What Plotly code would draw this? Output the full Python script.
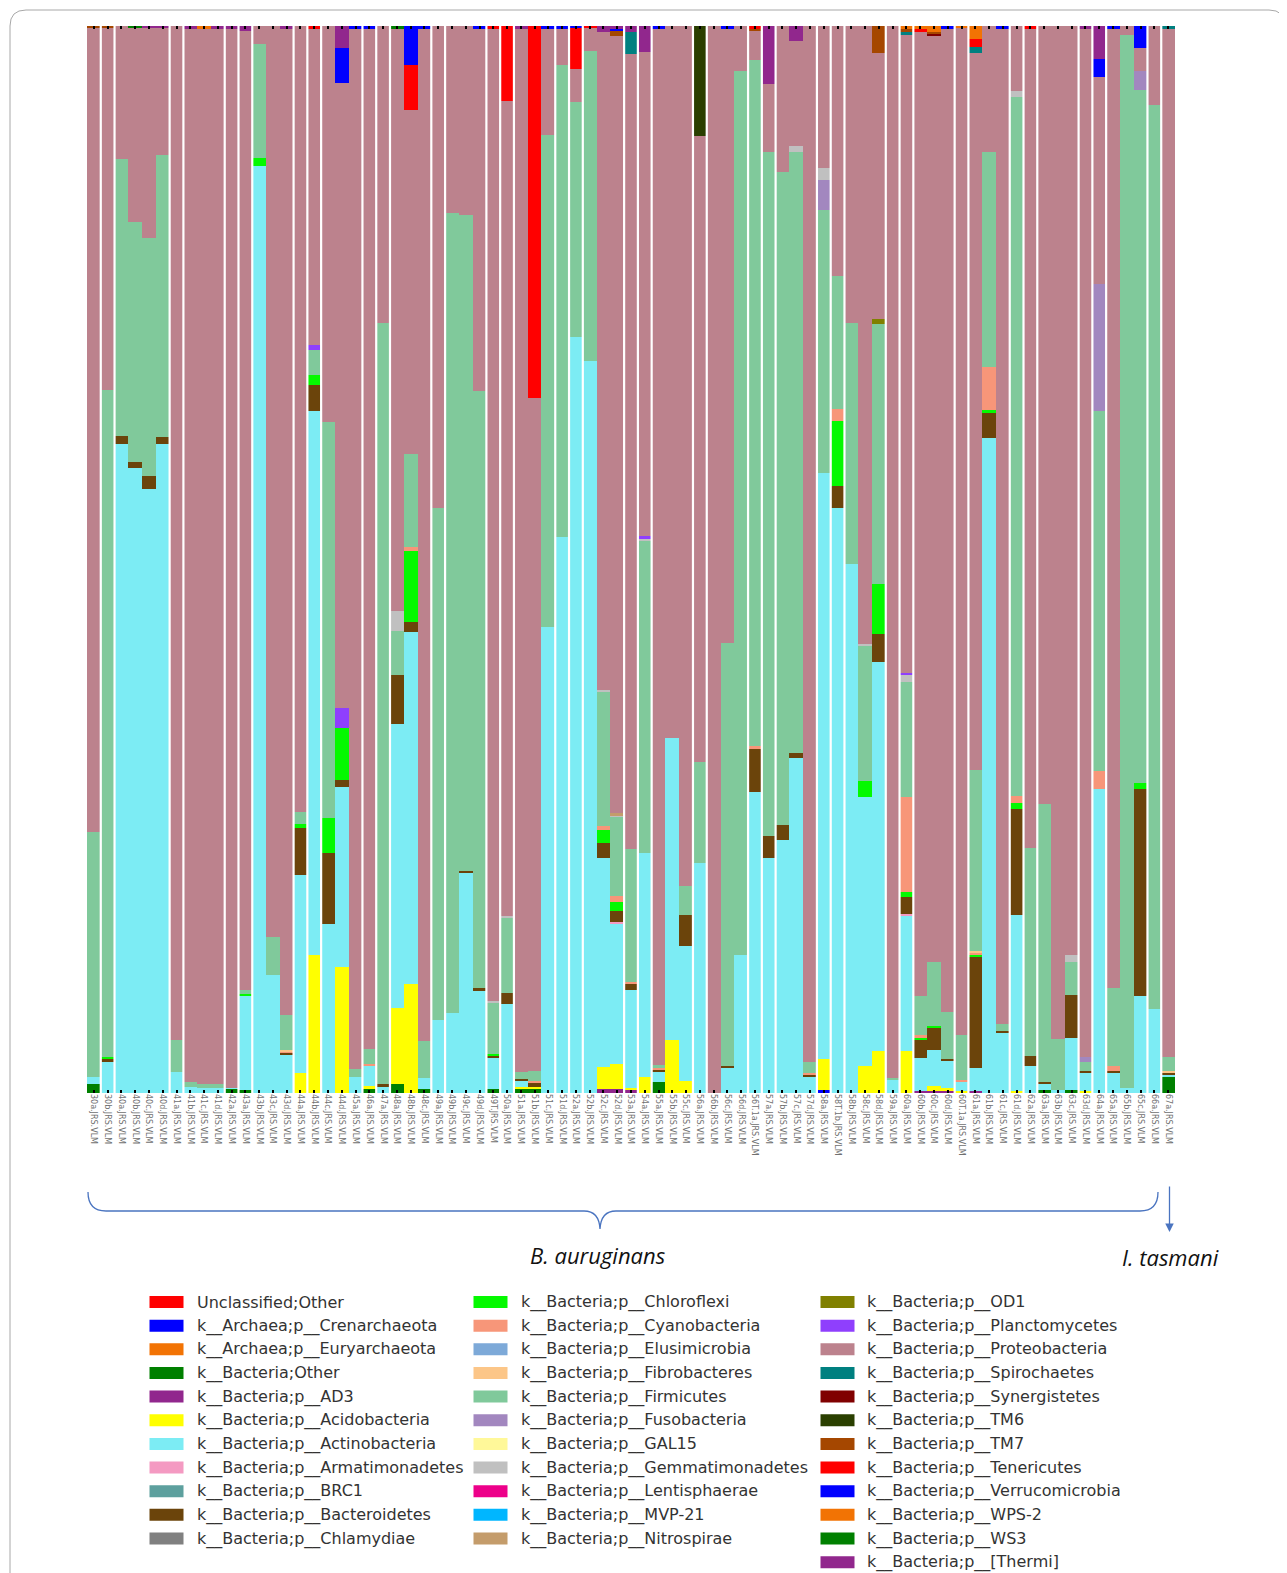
import plotly.graph_objects as go

# ---------------- data ----------------
N_BARS = 79
group_sizes = [1, 1, 4, 1, 3, 1, 1, 3, 1, 1, 3, 1, 1, 3, 1, 3, 1, 1, 3, 1, 1, 3, 1, 1, 3,
               1, 3, 1, 1, 3, 1, 1, 3, 1, 1, 3, 1, 3, 1, 1, 3, 1, 1, 3, 1, 1]

sample_ids = ["30a", "30b", "40a", "40b", "40c", "40d", "41a", "41b", "41c", "41d", "42a",
              "43a", "43b", "43c", "43d", "44a", "44b", "44c", "44d", "45a", "46a", "47a",
              "48a", "48b", "48c", "49a", "49b", "49c", "49d", "49T", "50a", "51a", "51b",
              "51c", "51d", "52a", "52b", "52c", "52d", "53a", "54a", "55a", "55b", "55c",
              "56a", "56b", "56c", "56d", "56T.1a", "57a", "57b", "57c", "57d", "58a",
              "58T.1b", "58b", "58c", "58d", "59a", "60a", "60b", "60c", "60d", "60T.1a",
              "61a", "61b", "61c", "61d", "62a", "63a", "63b", "63c", "63d", "64a", "65a",
              "65b", "65c", "66a", "67a"]

phylum_names = ["Unclassified;Other", "k__Archaea;p__Crenarchaeota", "k__Archaea;p__Euryarchaeota",
                "k__Bacteria;Other", "k__Bacteria;p__AD3", "k__Bacteria;p__Acidobacteria",
                "k__Bacteria;p__Actinobacteria", "k__Bacteria;p__Armatimonadetes", "k__Bacteria;p__BRC1",
                "k__Bacteria;p__Bacteroidetes", "k__Bacteria;p__Chlamydiae", "k__Bacteria;p__Chloroflexi",
                "k__Bacteria;p__Cyanobacteria", "k__Bacteria;p__Elusimicrobia", "k__Bacteria;p__Fibrobacteres",
                "k__Bacteria;p__Firmicutes", "k__Bacteria;p__Fusobacteria", "k__Bacteria;p__GAL15",
                "k__Bacteria;p__Gemmatimonadetes", "k__Bacteria;p__Lentisphaerae", "k__Bacteria;p__MVP-21",
                "k__Bacteria;p__Nitrospirae", "k__Bacteria;p__OD1", "k__Bacteria;p__Planctomycetes",
                "k__Bacteria;p__Proteobacteria", "k__Bacteria;p__Spirochaetes", "k__Bacteria;p__Synergistetes",
                "k__Bacteria;p__TM6", "k__Bacteria;p__TM7", "k__Bacteria;p__Tenericutes",
                "k__Bacteria;p__Verrucomicrobia", "k__Bacteria;p__WPS-2", "k__Bacteria;p__WS3",
                "k__Bacteria;p__[Thermi]"]

phylum_colors = ["#ff0000", "#0000ff", "#f27304", "#008000", "#91278d", "#ffff00", "#7cecf4",
                 "#f49ac2", "#5da09e", "#6b440b", "#808080", "#04f900", "#f79679", "#7da9d8",
                 "#fcc688", "#80c99b", "#a287bf", "#fff899", "#c0c0c0", "#ed008a", "#00b6ff",
                 "#c49c6b", "#808000", "#8f3ffd", "#bc828d", "#008080", "#800000", "#2a3f00",
                 "#a54700", "#ff0000", "#0000ff", "#f27304", "#008000", "#91278d"]

# relative abundance (%) per sample: {sample index: value}
bacteria_other = {0: 0.8, 10: 0.4, 11: 0.3, 20: 0.4, 22: 0.8, 24: 0.4, 29: 0.4, 31: 0.4, 32: 0.4,
                  41: 1.0, 69: 0.3, 71: 0.3, 78: 1.5}
crenarchaeota = {53: 0.3}
ad3 = {37: 0.4, 38: 0.4, 39: 0.3, 60: 0.2, 61: 0.2, 62: 0.2, 64: 0.2}
acidobacteria = {15: 1.9, 16: 12.9, 18: 11.8, 20: 0.3, 22: 7.2, 23: 10.2, 31: 0.15, 32: 0.15,
                 37: 2.0, 38: 2.3, 39: 0.15, 40: 1.5, 42: 5.0, 43: 1.1, 53: 2.9, 56: 2.5, 57: 3.9,
                 59: 3.9, 61: 0.5, 62: 0.3, 63: 0.2, 67: 0.2, 72: 0.2}
actinobacteria = {0: 0.7, 1: 2.95, 2: 60.8, 3: 58.6, 4: 56.6, 5: 60.8, 6: 2.0, 7: 0.6, 8: 0.5,
                  9: 0.5, 10: 0.1, 11: 8.8, 12: 86.9, 13: 11.1, 14: 3.6, 15: 18.5, 16: 51.0,
                  17: 15.8, 18: 16.9, 19: 1.5, 20: 1.8, 21: 0.6, 22: 26.6, 23: 33.0, 24: 1.0,
                  25: 6.8, 26: 7.5, 27: 20.6, 28: 9.6, 29: 2.9, 30: 8.3, 31: 0.6, 33: 43.7,
                  34: 52.1, 35: 70.9, 36: 68.6, 37: 19.6, 38: 13.1, 39: 9.2, 40: 21.0, 41: 1.0,
                  42: 28.3, 43: 12.7, 44: 21.6, 46: 2.3, 47: 12.9, 48: 28.2, 49: 22.0, 50: 23.7,
                  51: 31.4, 52: 1.5, 53: 54.9, 54: 54.8, 55: 49.6, 56: 25.2, 57: 36.5, 58: 1.2,
                  59: 12.7, 60: 3.1, 61: 3.3, 62: 2.5, 63: 0.8, 64: 2.1, 65: 61.4, 66: 5.6,
                  67: 16.5, 68: 2.5, 69: 0.5, 70: 0.3, 71: 4.9, 72: 1.65, 73: 28.5, 74: 1.85,
                  75: 0.45, 76: 9.1, 77: 7.9, 78: 0.2}
armatimonadetes = {38: 0.2, 59: 0.15}
bacteroidetes = {1: 0.2, 2: 0.8, 3: 0.5, 4: 1.2, 5: 0.7, 14: 0.15, 15: 4.4, 16: 2.5, 17: 6.7,
                 18: 0.6, 21: 0.25, 22: 4.6, 23: 0.9, 27: 0.2, 28: 0.2, 29: 0.15, 30: 1.1, 31: 0.2,
                 32: 0.4, 37: 1.4, 38: 1.1, 39: 0.6, 41: 0.2, 43: 2.9, 46: 0.2, 48: 4.0, 49: 2.1,
                 50: 1.4, 51: 0.5, 52: 0.2, 54: 2.1, 57: 2.6, 59: 1.65, 60: 1.7, 61: 2.1, 62: 0.2,
                 64: 10.4, 65: 2.3, 66: 0.25, 67: 9.9, 68: 1.0, 69: 0.2, 71: 4.0, 72: 0.2,
                 74: 0.25, 76: 19.4, 78: 0.2}
chloroflexi = {1: 0.2, 11: 0.2, 12: 0.7, 15: 0.4, 16: 0.9, 17: 3.3, 18: 4.9, 23: 6.7, 29: 0.2,
               37: 1.25, 38: 0.8, 54: 6.1, 56: 1.5, 57: 4.7, 59: 0.45, 60: 0.2, 61: 0.2, 64: 0.2,
               65: 0.3, 67: 0.6, 76: 0.6}
cyanobacteria = {14: 0.15, 20: 0.25, 23: 0.4, 32: 0.15, 37: 0.4, 38: 0.6, 39: 0.2, 41: 0.15,
                 48: 0.3, 52: 0.15, 54: 1.1, 59: 8.9, 60: 0.2, 63: 0.2, 64: 0.2, 65: 4.0, 67: 0.6,
                 73: 1.65, 74: 0.4}
fibrobacteres = {14: 0.1, 64: 0.2, 78: 0.2}
firmicutes = {0: 23.0, 1: 62.5, 2: 25.9, 3: 22.5, 4: 22.3, 5: 26.4, 6: 3.0, 7: 0.4, 8: 0.3,
              9: 0.3, 11: 0.4, 12: 10.7, 13: 3.5, 14: 3.3, 15: 1.1, 16: 2.3, 17: 37.1, 19: 0.75,
              20: 1.4, 21: 71.3, 22: 4.1, 23: 8.7, 24: 3.5, 25: 48.0, 26: 75.0, 27: 61.5,
              28: 56.0, 29: 4.8, 30: 7.0, 31: 0.6, 32: 1.0, 33: 46.1, 34: 44.2, 35: 22.0,
              36: 29.1, 37: 12.5, 38: 7.4, 39: 12.4, 40: 29.2, 41: 0.25, 43: 2.7, 44: 9.4,
              46: 39.7, 47: 82.9, 48: 64.3, 49: 64.1, 50: 61.2, 51: 56.3, 52: 1.1, 53: 24.7,
              54: 12.5, 55: 22.6, 56: 12.7, 57: 24.4, 58: 0.25, 59: 10.8, 60: 3.7, 61: 6.0,
              62: 4.4, 63: 4.2, 64: 17.0, 65: 20.2, 66: 0.6, 67: 65.5, 68: 19.5, 69: 26.1,
              70: 4.8, 71: 3.1, 72: 0.9, 73: 33.8, 74: 7.3, 75: 98.7, 76: 64.9, 77: 84.7,
              78: 1.25}
fusobacteria = {53: 2.8, 72: 0.4, 73: 11.9, 76: 1.8}
gemmatimonadetes = {22: 1.9, 29: 0.15, 30: 0.2, 37: 0.2, 38: 0.15, 40: 0.2, 51: 0.6, 53: 1.1,
                    56: 0.2, 59: 0.7, 67: 0.65, 71: 0.6}
nitrospirae = {38: 0.15}
od1 = {57: 0.4}
planctomycetes = {16: 0.5, 18: 1.9, 40: 0.3, 59: 0.15}
proteobacteria = {0: 75.3, 1: 33.95, 2: 12.5, 3: 18.2, 4: 19.7, 5: 11.9, 6: 95.0, 7: 98.7,
                  8: 98.9, 9: 98.9, 10: 99.2, 11: 89.8, 12: 1.7, 13: 85.4, 14: 92.4, 15: 73.7,
                  16: 29.6, 17: 37.1, 18: 58.6, 19: 97.45, 20: 95.55, 21: 27.85, 22: 54.5,
                  23: 32.2, 24: 94.8, 25: 45.2, 26: 17.5, 27: 17.7, 28: 33.9, 29: 91.1, 30: 76.4,
                  31: 97.75, 32: 63.0, 33: 9.9, 34: 3.4, 35: 3.1, 36: 2.1, 37: 61.7, 38: 72.9,
                  39: 74.5, 40: 45.4, 41: 97.1, 42: 66.7, 43: 80.6, 44: 58.7, 45: 100.0,
                  46: 57.5, 47: 4.2, 48: 2.7, 49: 6.4, 50: 13.7, 51: 9.8, 52: 97.05, 53: 13.3,
                  54: 23.4, 55: 27.8, 56: 57.9, 57: 25.0, 58: 98.55, 59: 59.8, 60: 90.35,
                  61: 86.75, 62: 92.1, 63: 94.4, 64: 67.2, 65: 11.8, 66: 93.25, 67: 6.05,
                  68: 76.7, 69: 72.9, 70: 94.9, 71: 87.1, 72: 96.35, 73: 19.4, 74: 89.9,
                  75: 0.85, 76: 2.1, 77: 7.4, 78: 96.35}
spirochaetes = {39: 2.1, 59: 0.2, 64: 0.55, 78: 0.3}
synergistetes = {61: 0.2}
tm6 = {44: 10.3}
tm7 = {0: 0.2, 1: 0.2, 38: 0.45, 48: 0.2, 57: 2.5, 59: 0.3, 61: 0.2}
tenericutes = {16: 0.3, 23: 4.2, 29: 0.3, 30: 7.0, 32: 34.9, 35: 3.8, 36: 0.2, 48: 0.3, 60: 0.25,
               64: 0.7, 68: 0.3}
verrucomicrobia = {18: 3.2, 19: 0.3, 20: 0.3, 23: 3.7, 24: 0.3, 28: 0.3, 33: 0.3, 34: 0.3,
                   35: 0.2, 38: 0.15, 41: 0.3, 46: 0.3, 62: 0.3, 66: 0.3, 73: 1.7, 74: 0.3, 76: 2.1}
wps2 = {8: 0.3, 59: 0.3, 60: 0.3, 61: 0.55, 63: 0.2, 64: 1.4}
ws3 = {3: 0.2, 22: 0.3}
thermi = {4: 0.2, 5: 0.2, 7: 0.3, 9: 0.3, 10: 0.3, 11: 0.5, 14: 0.3, 18: 2.1, 31: 0.3, 37: 0.55,
          38: 0.4, 39: 0.55, 40: 2.4, 49: 5.4, 51: 1.4, 72: 0.3, 73: 3.05}

# series in stacking order (bottom -> top), matching legend order
series_by_name = {
    "k__Archaea;p__Crenarchaeota": crenarchaeota,
    "k__Bacteria;Other": bacteria_other,
    "k__Bacteria;p__AD3": ad3,
    "k__Bacteria;p__Acidobacteria": acidobacteria,
    "k__Bacteria;p__Actinobacteria": actinobacteria,
    "k__Bacteria;p__Armatimonadetes": armatimonadetes,
    "k__Bacteria;p__Bacteroidetes": bacteroidetes,
    "k__Bacteria;p__Chloroflexi": chloroflexi,
    "k__Bacteria;p__Cyanobacteria": cyanobacteria,
    "k__Bacteria;p__Fibrobacteres": fibrobacteres,
    "k__Bacteria;p__Firmicutes": firmicutes,
    "k__Bacteria;p__Fusobacteria": fusobacteria,
    "k__Bacteria;p__Gemmatimonadetes": gemmatimonadetes,
    "k__Bacteria;p__Nitrospirae": nitrospirae,
    "k__Bacteria;p__OD1": od1,
    "k__Bacteria;p__Planctomycetes": planctomycetes,
    "k__Bacteria;p__Proteobacteria": proteobacteria,
    "k__Bacteria;p__Spirochaetes": spirochaetes,
    "k__Bacteria;p__Synergistetes": synergistetes,
    "k__Bacteria;p__TM6": tm6,
    "k__Bacteria;p__TM7": tm7,
    "k__Bacteria;p__Tenericutes": tenericutes,
    "k__Bacteria;p__Verrucomicrobia": verrucomicrobia,
    "k__Bacteria;p__WPS-2": wps2,
    "k__Bacteria;p__WS3": ws3,
    "k__Bacteria;p__[Thermi]": thermi,
}

# ---------------- figure ----------------
# page is rendered with an 8px body margin, so the figure is offset by 8px
OFF = 8
W, H = 1287 - OFF, 1573 - OFF
L, R, T, B = 87, 1175, 26, 1093   # plot area in page pixels


def px(x):
    return (x - L) / (R - L)


def py(y):
    return (B - y) / (B - T)


xs = list(range(N_BARS))
fig = go.Figure()
for name, color in zip(phylum_names, phylum_colors):
    if name not in series_by_name:
        continue
    d = series_by_name[name]
    fig.add_trace(go.Bar(
        x=xs, y=[d.get(i, 0) for i in xs], name=name,
        marker=dict(color=color, line=dict(width=0)),
        showlegend=False, width=1.0,
    ))

shapes = []
# white separators between sample groups
pos = 0
for gs in group_sizes[:-1]:
    pos += gs
    shapes.append(dict(type="line", xref="x", yref="y", x0=pos - 0.5, x1=pos - 0.5,
                       y0=0, y1=100, line=dict(color="white", width=2.2), layer="above"))

# outer frame
frame = (f"M {px(10)},{py(1600)} L {px(10)},{py(26)} Q {px(10)},{py(10)} {px(26)},{py(10)} "
         f"L {px(1269)},{py(10)} Q {px(1285)},{py(10)} {px(1285)},{py(26)} L {px(1285)},{py(1600)}")
shapes.append(dict(type="path", xref="paper", yref="paper", path=frame,
                   line=dict(color="#a8a8a8", width=1)))

# curly brace
bc = "#4a74c0"
brace = (f"M {px(88)},{py(1192)} Q {px(88)},{py(1211)} {px(106)},{py(1211)} "
         f"L {px(584)},{py(1211)} Q {px(599)},{py(1211)} {px(600)},{py(1229)} "
         f"Q {px(601)},{py(1211)} {px(616)},{py(1211)} "
         f"L {px(1140)},{py(1211)} Q {px(1158)},{py(1211)} {px(1158)},{py(1192)}")
shapes.append(dict(type="path", xref="paper", yref="paper", path=brace,
                   line=dict(color=bc, width=1.3)))

annotations = []
annotations.append(dict(x=px(1169.5), y=py(1232), xref="paper", yref="paper", text="",
                        showarrow=True, ax=0, ay=-47, arrowhead=2, arrowsize=1.3,
                        arrowwidth=1.3, arrowcolor=bc))
annotations.append(dict(x=px(598), y=py(1255), xref="paper", yref="paper",
                        xanchor="center", yanchor="middle",
                        text="<i>B. auruginans</i>", showarrow=False,
                        font=dict(family="Open Sans", size=22, color="#111")))
annotations.append(dict(x=px(1170), y=py(1257), xref="paper", yref="paper",
                        xanchor="center", yanchor="middle",
                        text="<i>I. tasmani</i>", showarrow=False,
                        font=dict(family="Open Sans", size=22, color="#111")))

# legend (3 columns)
col_swatch_x = [149.5, 473.5, 820.5]
col_text_x = [194.6, 518.6, 864.7]
col_start = [0, 11, 22]
for k, (name, color) in enumerate(zip(phylum_names, phylum_colors)):
    col = 0 if k < 11 else (1 if k < 22 else 2)
    row = k - col_start[col]
    yc = 1302 + row * 23.65
    x0 = col_swatch_x[col]
    shapes.append(dict(type="rect", xref="paper", yref="paper",
                       x0=px(x0), x1=px(x0 + 34), y0=py(yc + 6), y1=py(yc - 6),
                       fillcolor=color, line=dict(width=0)))
    annotations.append(dict(x=px(col_text_x[col]), y=py(yc), xref="paper", yref="paper",
                            text=name, showarrow=False, xanchor="left", yanchor="middle",
                            font=dict(family="DejaVu Sans", size=16, color="#333")))

fig.update_layout(
    width=W, height=H,
    margin=dict(l=L - OFF, r=(W + OFF) - R, t=T - OFF, b=(H + OFF) - B, pad=0),
    paper_bgcolor="white", plot_bgcolor="white",
    barmode="stack", bargap=0,
    shapes=shapes, annotations=annotations,
    showlegend=False,
    xaxis=dict(range=[-0.5, N_BARS - 0.5], tickvals=xs,
               ticktext=[s + ".JRS.VLM" for s in sample_ids], tickangle=90,
               tickfont=dict(family="DejaVu Sans", size=8, color="#707070"),
               ticks="inside", ticklen=3, tickwidth=2, tickcolor="black",
               mirror="ticks", showline=False, showgrid=False, zeroline=False),
    yaxis=dict(range=[0, 100], showticklabels=False, showgrid=False, zeroline=False,
               ticks="", showline=False),
)

fig.write_html("out.html")
